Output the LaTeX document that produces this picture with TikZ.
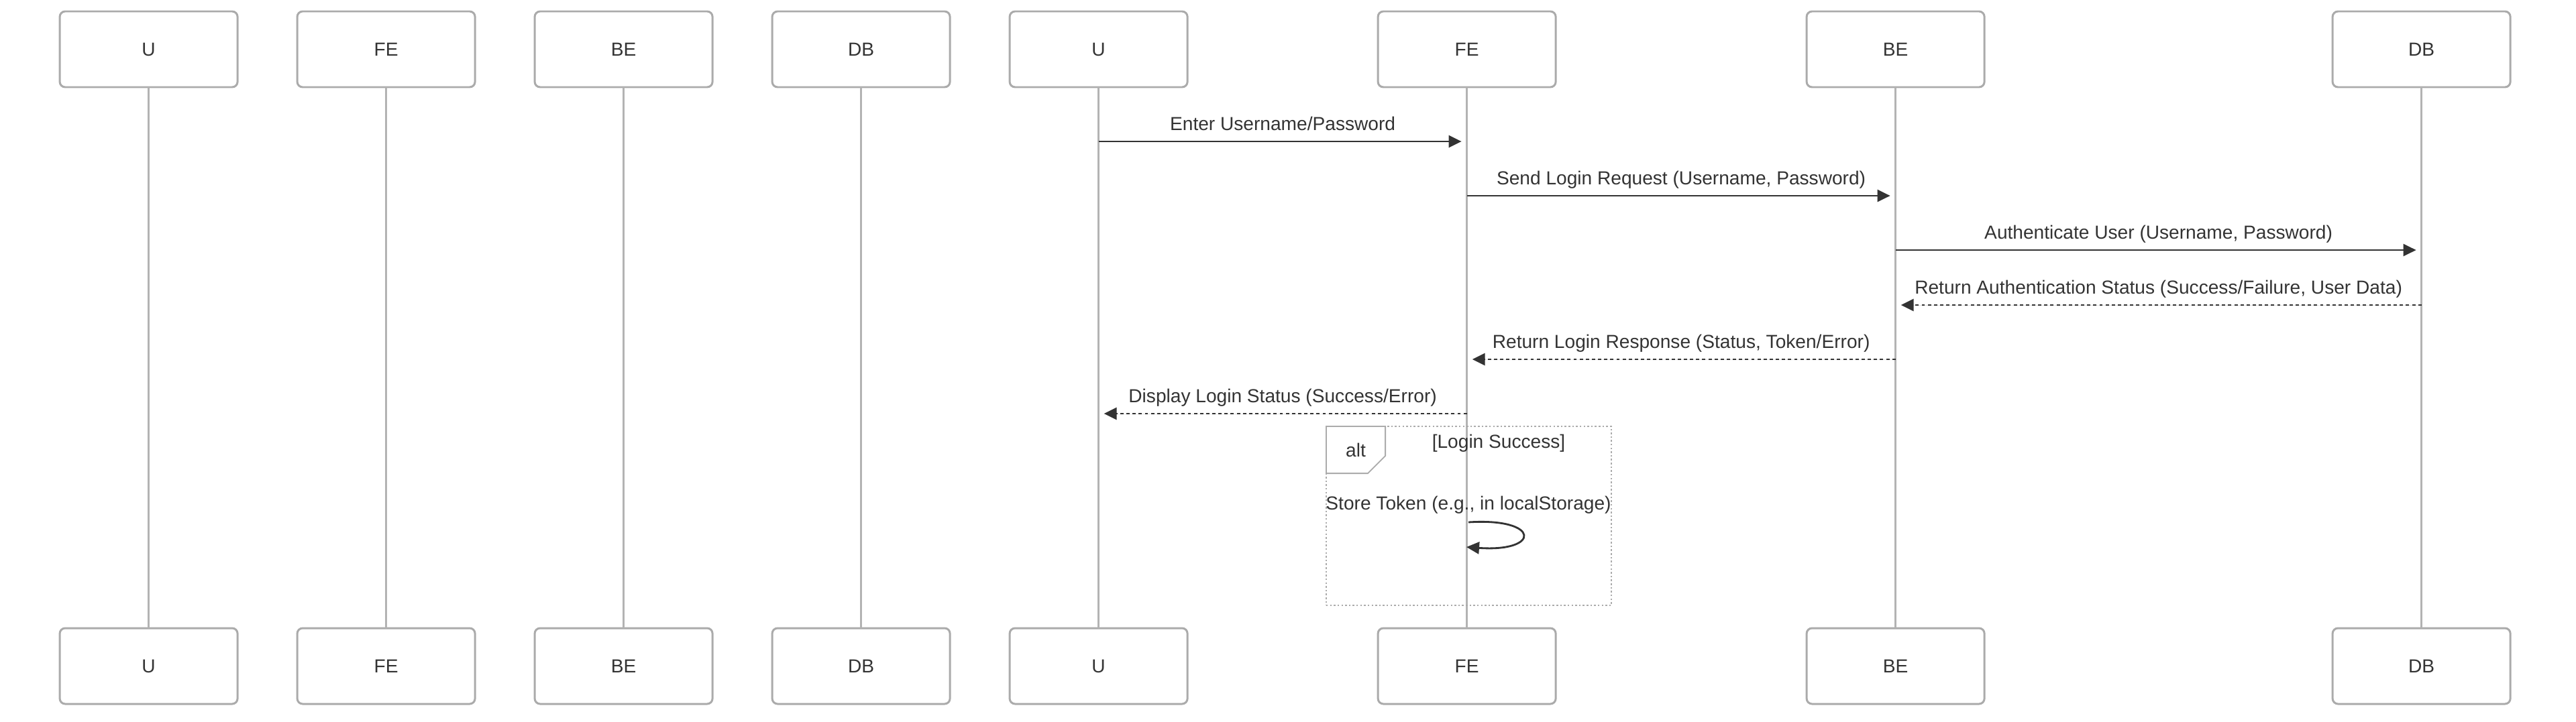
\documentclass[tikz,border=0pt]{standalone}
\usepackage{fontspec}
\setmainfont{Liberation Sans}
\usetikzlibrary{
  arrows.meta,
  shapes.misc,
  positioning
}
\definecolor{ink}{HTML}{333333}
\definecolor{edge}{HTML}{ABABAB}
\definecolor{life}{HTML}{B3B3B3}

\begin{document}
\begin{tikzpicture}[
      actor/.style={
         rectangle,
         rounded corners=0.8mm,
         minimum width=26.5mm,
         minimum height=11.3mm,
         line width=0.85pt,
         outer sep=0pt,
         draw=edge,
         fill=white,
         text=ink,
         font=\fontsize{8}{9.6}\selectfont
      },
      lifeline/.style={line width=0.75pt,draw=life},
      point/.style={coordinate},>={Triangle[length=1.9mm,width=1.8mm]},
      msg/.style={->,line width=0.8pt,draw=ink,fill=ink,shorten >=0.8mm},
      reply/.style={msg,dash pattern=on 1.4pt off 1.2pt},
      msg label/.style={midway,anchor=base,yshift=1.7mm,fill=none,text=ink,
         inner sep=0pt,font=\fontsize{8}{9.6}\selectfont},
      frame/.style={rectangle,draw=edge,line width=0.55pt,
         dash pattern=on 0.7pt off 0.9pt},
      tag/.style={
         chamfered rectangle,
         chamfered rectangle corners=south east,
         chamfered rectangle xsep=1.3mm,
         chamfered rectangle ysep=1.3mm,
         minimum width=8.8mm,
         minimum height=6.2mm,
         draw=edge,line width=0.55pt,fill=white,text=ink,
         font=\fontsize{8}{9.6}\selectfont
      },
      note/.style={text=ink,inner sep=0pt,font=\fontsize{8}{9.6}\selectfont}
    ]
    \useasboundingbox (0,0) rectangle (38.4,-10.77);
    % participants, top row
    \node (t1) [actor] at (2.216,-0.735) {U};
    \node (t2) [actor, right=8.9mm of t1] {FE};
    \node (t3) [actor, right=8.9mm of t2] {BE};
    \node (t4) [actor, right=8.9mm of t3] {DB};
    \node (t5) [actor, right=8.9mm of t4] {U};
    \node (t6) [actor, right=28.4mm of t5] {FE};
    \node (t7) [actor, right=37.4mm of t6] {BE};
    \node (t8) [actor, right=51.9mm of t7] {DB};
    % participants, bottom row
    \node (b1) [actor, below=80.7mm of t1] {U};
    \node (b2) [actor, below=80.7mm of t2] {FE};
    \node (b3) [actor, below=80.7mm of t3] {BE};
    \node (b4) [actor, below=80.7mm of t4] {DB};
    \node (b5) [actor, below=80.7mm of t5] {U};
    \node (b6) [actor, below=80.7mm of t6] {FE};
    \node (b7) [actor, below=80.7mm of t7] {BE};
    \node (b8) [actor, below=80.7mm of t8] {DB};
    \draw [lifeline] (t1) -- (b1);
    \draw [lifeline] (t2) -- (b2);
    \draw [lifeline] (t3) -- (b3);
    \draw [lifeline] (t4) -- (b4);
    \draw [lifeline] (t5) -- (b5);
    \draw [lifeline] (t6) -- (b6);
    \draw [lifeline] (t7) -- (b7);
    \draw [lifeline] (t8) -- (b8);
    % message ends on the lifelines
    \coordinate (m1a) at (t5 |- 0,-2.11);
    \coordinate (m1b) at (t6 |- 0,-2.11);
    \coordinate (m2a) at (t6 |- 0,-2.92);
    \coordinate (m2b) at (t7 |- 0,-2.92);
    \coordinate (m3a) at (t7 |- 0,-3.73);
    \coordinate (m3b) at (t8 |- 0,-3.73);
    \coordinate (m4a) at (t8 |- 0,-4.55);
    \coordinate (m4b) at (t7 |- 0,-4.55);
    \coordinate (m5a) at (t7 |- 0,-5.36);
    \coordinate (m5b) at (t6 |- 0,-5.36);
    \coordinate (m6a) at (t6 |- 0,-6.17);
    \coordinate (m6b) at (t5 |- 0,-6.17);
    \draw [msg] (m1a) -- (m1b) node [msg label] {Enter Username/Password};
    \draw [msg] (m2a) -- (m2b) node [msg label] {Send Login Request (Username, Password)};
    \draw [msg] (m3a) -- (m3b) node [msg label] {Authenticate User (Username, Password)};
    \draw [reply] (m4a) -- (m4b) node [msg label] {Return Authentication Status (Success/Failure, User Data)};
    \draw [reply] (m5a) -- (m5b) node [msg label] {Return Login Response (Status, Token/Error)};
    \draw [reply] (m6a) -- (m6b) node [msg label] {Display Login Status (Success/Error)};
    % alt block
    \node (altframe) [frame, minimum width=42.5mm, minimum height=26.7mm] at (21.895,-7.695) {};
    \node (alttag) [tag, anchor=north west] at (altframe.north west) {alt};
    \node (guard) [note, anchor=base] at (22.34,-6.68) {\relax[Login Success]};
    \node (store) [note, anchor=base] at (21.89,-7.60) {Store Token (e.g., in localStorage)};
    \coordinate (s1) at (21.89,-7.79);
    \coordinate (s2) at (21.86,-8.16);
    \draw [msg, fill=none, shorten >=0pt] (s1) .. controls +(1.08,0.07) and +(1.11,-0.08) .. (s2);
\end{tikzpicture}
\end{document}
